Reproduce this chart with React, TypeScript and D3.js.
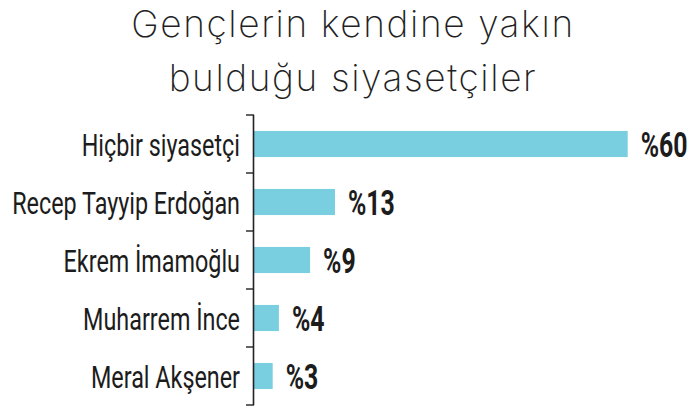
import { useMemo } from 'react';
import * as d3 from 'd3';

const titleLines = ['Gençlerin kendine yakın', 'bulduğu siyasetçiler'];
const categories = ['Hiçbir siyasetçi', 'Recep Tayyip Erdoğan', 'Ekrem İmamoğlu', 'Muharrem İnce', 'Meral Akşener'];
const values = [60, 13, 9, 4, 3];

const W = 700;
const H = 415;
const BAR_COLOR = '#79cee0';
const TEXT = '#1c1c1c';
const COND = 'Roboto, "DejaVu Sans", sans-serif';
// the reference uses a condensed face; squeeze Roboto horizontally instead
const CAT_SQUEEZE = 0.73;
const VAL_SQUEEZE = 0.71;

export default function App() {
  const margin = { top: 115, right: 11, bottom: 10, left: 254 };

  const y = useMemo(
    () => d3.scaleBand<string>().domain(categories).range([margin.top, H - margin.bottom]).paddingInner(0.55).paddingOuter(0.275),
    []
  );
  const x = useMemo(() => d3.scaleLinear().domain([0, 60]).range([margin.left, 627.7]), []);

  const step = y.step();
  const tickYs = d3.range(categories.length + 1).map(i => margin.top + i * step);

  return (
    <svg width={W} height={H} style={{ position: 'absolute', left: 0, top: 0, background: '#fff' }}>
      {/* Title */}
      <g fill="#231f24" fontFamily="Inter, Lato, sans-serif" fontWeight={200} fontSize={37} letterSpacing={1.6} textAnchor="middle">
        {titleLines.map((t, i) => (
          <text key={t} x={353} y={37 + i * 54}>{t}</text>
        ))}
      </g>

      {/* Bars */}
      {categories.map((c, i) => (
        <rect key={c} x={x(0)} y={y(c)!} width={x(values[i]) - x(0)} height={y.bandwidth()} fill={BAR_COLOR} />
      ))}

      {/* Axis */}
      <line x1={margin.left - 0.5} x2={margin.left - 0.5} y1={margin.top} y2={tickYs[tickYs.length - 1]} stroke="#222" strokeWidth={1.6} />
      {tickYs.map(t => (
        <line key={t} x1={margin.left - 8} x2={margin.left} y1={t} y2={t} stroke="#222" strokeWidth={1.4} />
      ))}

      {/* Category labels */}
      <g fontFamily={COND} fontSize={32} fill={TEXT} textAnchor="end">
        {categories.map(c => (
          <text key={c} transform={`translate(240,${y(c)! + y.bandwidth() / 2 + 11.7}) scale(${CAT_SQUEEZE},1)`}>{c}</text>
        ))}
      </g>

      {/* Value labels */}
      <g fontFamily={COND} fontWeight={700} fontSize={35} fill={TEXT}>
        {categories.map((c, i) => (
          <text key={c} transform={`translate(${x(values[i]) + 13},${y(c)! + y.bandwidth() / 2 + 12.7}) scale(${VAL_SQUEEZE},1)`}>{`%${values[i]}`}</text>
        ))}
      </g>
    </svg>
  );
}
